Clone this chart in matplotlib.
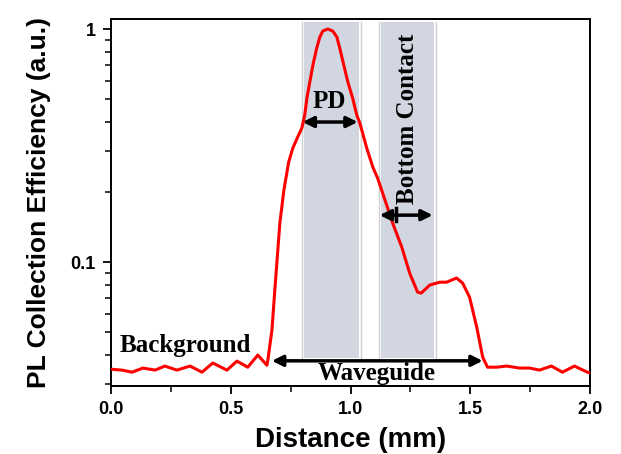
import numpy as np
import matplotlib
matplotlib.use("Agg")
import matplotlib.pyplot as plt
from matplotlib.ticker import FixedLocator, FixedFormatter, LogLocator, NullFormatter, MultipleLocator

# distance (mm) vs PL collection efficiency (a.u.)
dist = [0.0, 0.046, 0.088, 0.133, 0.184, 0.225, 0.275, 0.330, 0.380, 0.425,
        0.484, 0.526, 0.571, 0.613, 0.651, 0.655, 0.672, 0.684, 0.705, 0.722,
        0.742, 0.759, 0.780, 0.797, 0.809, 0.818, 0.830, 0.843, 0.859, 0.872,
        0.884, 0.905, 0.926, 0.943, 0.955, 0.972, 0.989, 1.009, 1.026, 1.039,
        1.068, 1.093, 1.114, 1.134, 1.176, 1.214, 1.247, 1.280, 1.295, 1.331,
        1.372, 1.401, 1.443, 1.468, 1.497, 1.527, 1.552, 1.572, 1.610, 1.652,
        1.706, 1.748, 1.789, 1.839, 1.885, 1.935, 1.989, 2.0]
eff = [0.0347, 0.0344, 0.0337, 0.0351, 0.0344, 0.0358, 0.0344, 0.0358, 0.0337, 0.0369,
       0.0344, 0.0376, 0.0354, 0.0399, 0.0361, 0.0380, 0.0511, 0.0758, 0.147, 0.204,
       0.269, 0.308, 0.345, 0.376, 0.428, 0.505, 0.592, 0.700, 0.829, 0.924,
       0.980, 1.0, 0.980, 0.924, 0.829, 0.700, 0.592, 0.505, 0.428, 0.395,
       0.308, 0.256, 0.228, 0.198, 0.147, 0.116, 0.0897, 0.0743, 0.0736, 0.0797,
       0.0820, 0.0820, 0.0854, 0.0813, 0.0708, 0.0526, 0.0391, 0.0354, 0.0354, 0.0358,
       0.0351, 0.0351, 0.0344, 0.0358, 0.0337, 0.0358, 0.0337, 0.0335]

# shaded regions (mm)
pd_span = [0.807, 1.035]
contact_span = [1.128, 1.348]
# arrow extents (mm)
pd_arrow = [0.80, 1.03]
contact_arrow = [1.122, 1.343]
wg_arrow = [0.672, 1.552]

xticks = [0.0, 0.5, 1.0, 1.5, 2.0]
xticklabels = ["0.0", "0.5", "1.0", "1.5", "2.0"]
yticks = [0.1, 1.0]
yticklabels = ["0.1", "1"]

sans = "Liberation Sans"
serif = "Liberation Serif"

fig = plt.figure(figsize=(6.21, 4.54), dpi=100)
ax = fig.add_axes([111/621, 68/454, 479/621, 367/454])

ax.set_yscale("log")
ax.set_xlim(0, 2.0)
ax.set_ylim(0.0294, 1.104)

# shaded device regions with thin light outlines
span_bottom, span_top = 0.0387, 1.072
for lo, hi in (pd_span, contact_span):
    ax.fill_between([lo, hi], span_bottom, span_top, color="#d1d6e0", lw=0, zorder=1)
    for edge in (lo - 0.009, hi + 0.009):
        ax.plot([edge, edge], [span_bottom, span_top], color="#cfcfcf", lw=1, zorder=1)

ax.plot(dist, eff, color="#ff0000", lw=2.2, zorder=3, solid_joinstyle="round")

arrow_kw = dict(arrowstyle="<|-|>", color="black", lw=2.5, mutation_scale=16,
                shrinkA=0, shrinkB=0)
ax.annotate("", xy=(pd_arrow[0], 0.399), xytext=(pd_arrow[1], 0.399), arrowprops=arrow_kw, zorder=4)
ax.annotate("", xy=(contact_arrow[0], 0.159), xytext=(contact_arrow[1], 0.159), arrowprops=arrow_kw, zorder=4)
ax.annotate("", xy=(wg_arrow[0], 0.0377), xytext=(wg_arrow[1], 0.0377), arrowprops=arrow_kw, zorder=4)
ax.plot([1.189, 1.189], [0.150, 0.170], color="black", lw=2.5, zorder=4)

ax.text(0.913, 0.49, "PD", family=serif, weight="bold", fontsize=18, ha="center", va="center", zorder=5)
ax.text(1.239, 0.411, "Bottom Contact", family=serif, weight="bold", fontsize=18,
        rotation=90, ha="center", va="center", zorder=5)
ax.text(0.0375, 0.0411, "Background", family=serif, weight="bold", fontsize=18,
        ha="left", va="baseline", zorder=5)
ax.text(1.109, 0.0312, "Waveguide", family=serif, weight="bold", fontsize=18,
        ha="center", va="baseline", zorder=5)

ax.xaxis.set_major_locator(FixedLocator(xticks))
ax.xaxis.set_major_formatter(FixedFormatter(xticklabels))
ax.xaxis.set_minor_locator(MultipleLocator(0.25))
ax.yaxis.set_major_locator(FixedLocator(yticks))
ax.yaxis.set_major_formatter(FixedFormatter(yticklabels))
ax.yaxis.set_minor_locator(LogLocator(base=10, subs=np.arange(2, 10)))
ax.yaxis.set_minor_formatter(NullFormatter())

ax.tick_params(which="major", direction="out", length=6, width=1.3, pad=5, labelsize=13)
ax.tick_params(which="minor", direction="out", length=4, width=1.1)
for lab in ax.get_xticklabels() + ax.get_yticklabels():
    lab.set_family(sans)
    lab.set_weight("bold")

for sp in ax.spines.values():
    sp.set_linewidth(1.4)

ax.set_xlabel("Distance (mm)", family=sans, weight="bold", fontsize=20, labelpad=6)
ax.set_ylabel("PL Collection Efficiency (a.u.)", family=sans, weight="bold", fontsize=19, labelpad=14)

fig.savefig("out.png", dpi=100)
